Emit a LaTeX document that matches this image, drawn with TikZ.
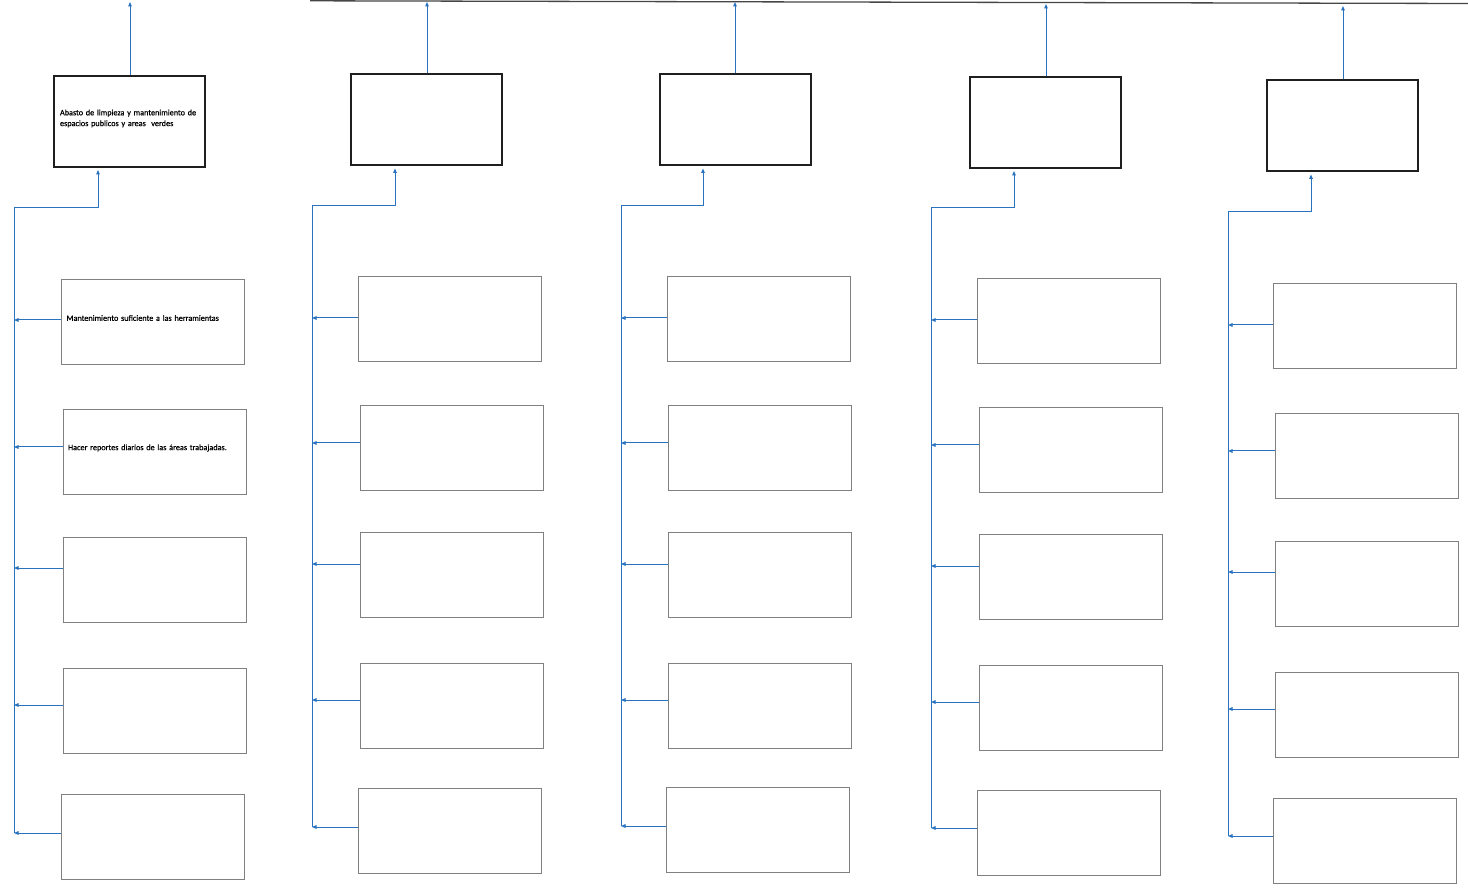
\documentclass[tikz,border=0pt]{standalone}
\usepackage{fontspec}
\setmainfont{Carlito}
\newfontfamily\scanfont{Carlito}[RawFeature={embolden=0.7}]
\usetikzlibrary{arrows.meta}
\definecolor{linkblue}{RGB}{40,114,192}
\definecolor{edgegray}{RGB}{70,70,70}
\tikzset{
  x=1pt, y=-1pt,
  conn/.style={draw=linkblue, line width=1pt, -{Triangle[length=4.5pt,width=3.6pt]}},
  headbox/.style={draw=black!88, line width=2pt, rectangle, inner sep=0pt,
    minimum width=151pt, minimum height=91pt},
  childbox/.style={draw=black!50, line width=0.8pt, rectangle, inner sep=0pt,
    minimum width=183pt, minimum height=85pt},
  headtext/.style={inner sep=0pt, text width=139pt, align=left,
    font=\scanfont\fontsize{8.2}{10.8}\selectfont},
  childtext/.style={inner sep=0pt, text width=173pt, align=left,
    font=\scanfont\fontsize{8.2}{10.8}\selectfont},
  topedge/.style={draw=edgegray, line width=1.3pt},
}
\newcommand\kidbox[6]{%
  \node[childbox] (#1) at (#2,#3) {};
  \node[childtext] (#1t) at ([yshift=3.5pt]#1.center) {#6};
  \coordinate (#1a) at ([yshift=#4pt]#1.west);
  \draw[conn] (#1a) -- (#1a -| #5);
}
\begin{document}
\begin{tikzpicture}
\useasboundingbox[fill=white] (0,0) rectangle (1468,890);
% top edge line of the sheet
\coordinate (edgeL) at (310,0.8);
\coordinate (edgeR) at (1468,3.5);
\draw[topedge] (edgeL) -- (edgeR);

% ---------- column 1
\node[headbox] (t1) at (129.5,121.5) {};
\node[headtext] (t1t) at ([yshift=3pt]t1.center) {Abasto de limpieza y mantenimiento de\\espacios publicos y areas\ \ verdes};
\coordinate (u1) at (130,2);
\coordinate (e1) at (98,208);
\coordinate (k1) at (14,833);
\draw[conn] (t1.north -| u1) -- (u1);
\draw[conn, shorten >=2pt] (k1) |- (e1) -- (e1 |- t1.south);
\kidbox{b11}{153}{321.5}{1.5}{k1}{Mantenimiento suficiente a las herramientas}
\kidbox{b12}{154.5}{451.5}{4.5}{k1}{Hacer reportes diarios de las áreas trabajadas.}
\kidbox{b13}{154.5}{579.5}{11.5}{k1}{}
\kidbox{b14}{154.5}{710.5}{5.5}{k1}{}
\kidbox{b15}{152.5}{837}{4}{k1}{}

% ---------- column 2
\node[headbox] (t2) at (426.5,120) {};
\coordinate (u2) at (427,2);
\coordinate (e2) at (395,206);
\coordinate (k2) at (312,827);
\draw[conn] (t2.north -| u2) -- (u2);
\draw[conn, shorten >=2pt] (k2) |- (e2) -- (e2 |- t2.south);
\kidbox{b21}{450}{319}{1}{k2}{}
\kidbox{b22}{451.5}{448}{5}{k2}{}
\kidbox{b23}{451.5}{575}{11}{k2}{}
\kidbox{b24}{451.5}{706}{6}{k2}{}
\kidbox{b25}{449.5}{831}{4}{k2}{}

% ---------- column 3
\node[headbox] (t3) at (735,120) {};
\coordinate (u3) at (735,2);
\coordinate (e3) at (703,206);
\coordinate (k3) at (621,826);
\draw[conn] (t3.north -| u3) -- (u3);
\draw[conn, shorten >=2pt] (k3) |- (e3) -- (e3 |- t3.south);
\kidbox{b31}{758.5}{319}{1}{k3}{}
\kidbox{b32}{760}{448}{5}{k3}{}
\kidbox{b33}{760}{575}{11}{k3}{}
\kidbox{b34}{760}{705.5}{5.5}{k3}{}
\kidbox{b35}{758}{830}{4}{k3}{}

% ---------- column 4
\node[headbox] (t4) at (1045.5,122.5) {};
\coordinate (u4) at (1046,4);
\coordinate (e4) at (1014,208);
\coordinate (k4) at (931,828);
\draw[conn] (t4.north -| u4) -- (u4);
\draw[conn, shorten >=2pt] (k4) |- (e4) -- (e4 |- t4.south);
\kidbox{b41}{1068.5}{321}{1}{k4}{}
\kidbox{b42}{1070.5}{450}{5}{k4}{}
\kidbox{b43}{1070.5}{577}{11}{k4}{}
\kidbox{b44}{1070.5}{708}{6}{k4}{}
\kidbox{b45}{1068.5}{833}{5}{k4}{}

% ---------- column 5
\node[headbox] (t5) at (1342,126) {};
\coordinate (u5) at (1343,6);
\coordinate (e5) at (1311,212);
\coordinate (k5) at (1228,836);
\draw[conn] (t5.north -| u5) -- (u5);
\draw[conn, shorten >=2pt] (k5) |- (e5) -- (e5 |- t5.south);
\kidbox{b51}{1365}{326}{1}{k5}{}
\kidbox{b52}{1366.5}{455.5}{4.5}{k5}{}
\kidbox{b53}{1367}{583.5}{11.5}{k5}{}
\kidbox{b54}{1366.5}{714.5}{5.5}{k5}{}
\kidbox{b55}{1364.5}{840.5}{4.5}{k5}{}
\end{tikzpicture}
\end{document}
